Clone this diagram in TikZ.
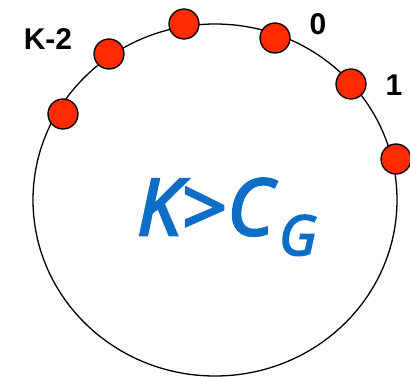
\documentclass[tikz,border=0pt]{standalone}
\usepackage{fontspec}
\setmainfont{Liberation Sans}
\newfontfamily\bigfont[FakeBold=3.5]{Open Sans}
\definecolor{dotred}{HTML}{FF2A00}
\definecolor{txtblue}{HTML}{0E6DC7}
\begin{document}
\begin{tikzpicture}[x=1pt,y=1pt,
  dot/.style={circle,draw=black,fill=dotred,line width=1.3pt,minimum size=30pt,inner sep=0pt},
  lbl/.style={font=\fontsize{30}{30}\selectfont\bfseries,inner sep=0pt},
  big/.style={font=\bigfont\itshape\fontsize{78}{78}\selectfont,text=txtblue,inner sep=0pt,anchor=base west},
  sub/.style={font=\bigfont\itshape\fontsize{55}{55}\selectfont,text=txtblue,inner sep=0pt,anchor=base west}]
\useasboundingbox (0,0) rectangle (410,376);
\draw[line width=1.3pt] (215,176) ellipse [x radius=182, y radius=176];
\node[dot] (d1) at (63,262) {};
\node[dot] (d2) at (109,322) {};
\node[dot] (d3) at (184,352) {};
\node[dot] (d4) at (275,338) {};
\node[dot] (d5) at (351,292) {};
\node[dot] (d6) at (396,217) {};
\node[lbl] (lk) at (48,337) {K-2};
\node[lbl] (l0) at (318,352) {0};
\node[lbl] (l1) at (394,291) {1};
\node[big] (kc) at (137,141) {K>\kern2pt C};
\node[sub] (g) at (279,121) {G};
\end{tikzpicture}
\end{document}
